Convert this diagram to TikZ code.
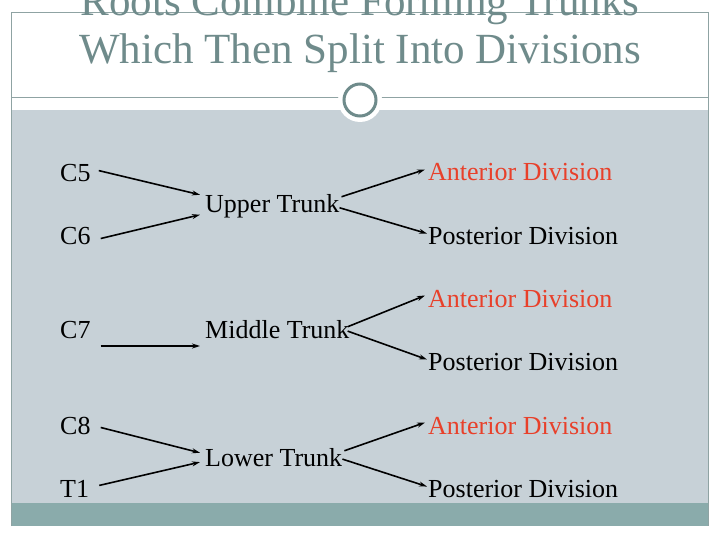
\documentclass[tikz,border=0pt]{standalone}
\usepackage{fontspec}
\setmainfont{Liberation Serif}
\usetikzlibrary{arrows.meta}
\definecolor{bgc}{HTML}{C7D1D7}
\definecolor{band}{HTML}{8AABAB}
\definecolor{tc}{HTML}{6F8B8B}
\definecolor{fr}{HTML}{8FA3A3}
\definecolor{ant}{HTML}{E8402A}
\begin{document}
\begin{tikzpicture}[x=1pt,y=-1pt,
  lbl/.style={anchor=base west,inner sep=0pt,font=\fontsize{26}{28}\selectfont},
  arr/.style={-{Stealth[length=8pt,width=5pt]},line width=1.6pt}]
\useasboundingbox (0,0) rectangle (720,540);
\fill[white] (0,0) rectangle (720,540);
\fill[bgc] (11,110) rectangle (708,503);
\fill[band] (11,503) rectangle (708,526);
\draw[fr,line width=0.8pt] (11,526) -- (11,12) -- (708,12) -- (708,526);
\draw[fr,line width=0.8pt] (11,97) -- (708,97);
\fill[white] (360,100) circle (22);
\draw[tc,line width=3pt] (360,100) circle (16);
\node[tc,font=\fontsize{43}{45}\selectfont,inner sep=0pt,anchor=base] (t1) at (360,16) {Roots Combine Forming Trunks};
\node[tc,font=\fontsize{43}{45}\selectfont,inner sep=0pt,anchor=base] (t2) at (360,64) {Which Then Split Into Divisions};
% roots
\node[lbl] (c5) at (60,182) {C5};
\node[lbl] (c6) at (60,244) {C6};
\node[lbl] (c7) at (60,338) {C7};
\node[lbl] (c8) at (60,434) {C8};
\node[lbl] (tt) at (60,497) {T1};
% trunks
\node[lbl] (ut) at (205,212) {Upper Trunk};
\node[lbl] (mt) at (205,338) {Middle Trunk};
\node[lbl] (lt) at (205,466) {Lower Trunk};
% divisions
\node[lbl,ant] (a1) at (428,181) {Anterior Division};
\node[lbl] (p1) at (428,244) {Posterior Division};
\node[lbl,ant] (a2) at (428,307) {Anterior Division};
\node[lbl] (p2) at (428,370) {Posterior Division};
\node[lbl,ant] (a3) at (428,434) {Anterior Division};
\node[lbl] (p3) at (428,497) {Posterior Division};
\coordinate (c7s) at ([xshift=10pt,yshift=-8pt]c7.base east);
\coordinate (c7e) at ([xshift=-5pt,yshift=-8pt]mt.base west);
% arrows
\draw[arr] ([xshift=8pt,yshift=-6pt]c5.north east) -- ([xshift=-5pt,yshift=-1pt]ut.north west);
\draw[arr] ([xshift=10pt,yshift=-3pt]c6.east) -- ([xshift=-5pt,yshift=-9pt]ut.west);
\draw[arr] ([xshift=2pt,yshift=-3pt]ut.north east) -- ([xshift=-3pt,yshift=3pt]a1.west);
\draw[arr] ([xshift=0pt,yshift=-2pt]ut.east) -- ([xshift=-1pt,yshift=2pt]p1.west);
\draw[arr] (c7s) -- (c7e);
\draw[arr] ([xshift=-2pt,yshift=-7pt]mt.north east) -- ([xshift=-3pt,yshift=3pt]a2.west);
\draw[arr] ([xshift=-2pt,yshift=-2pt]mt.east) -- ([xshift=-1pt,yshift=2pt]p2.west);
\draw[arr] ([xshift=10pt,yshift=-2pt]c8.east) -- ([xshift=-5pt,yshift=-5pt]lt.north west);
\draw[arr] ([xshift=10pt,yshift=3pt]tt.east) -- ([xshift=-5pt,yshift=-5pt]lt.west);
\draw[arr] ([xshift=2pt,yshift=-3pt]lt.north east) -- ([xshift=-3pt,yshift=3pt]a3.west);
\draw[arr] ([xshift=0pt,yshift=-2pt]lt.east) -- ([xshift=-1pt,yshift=2pt]p3.west);
\end{tikzpicture}
\end{document}
